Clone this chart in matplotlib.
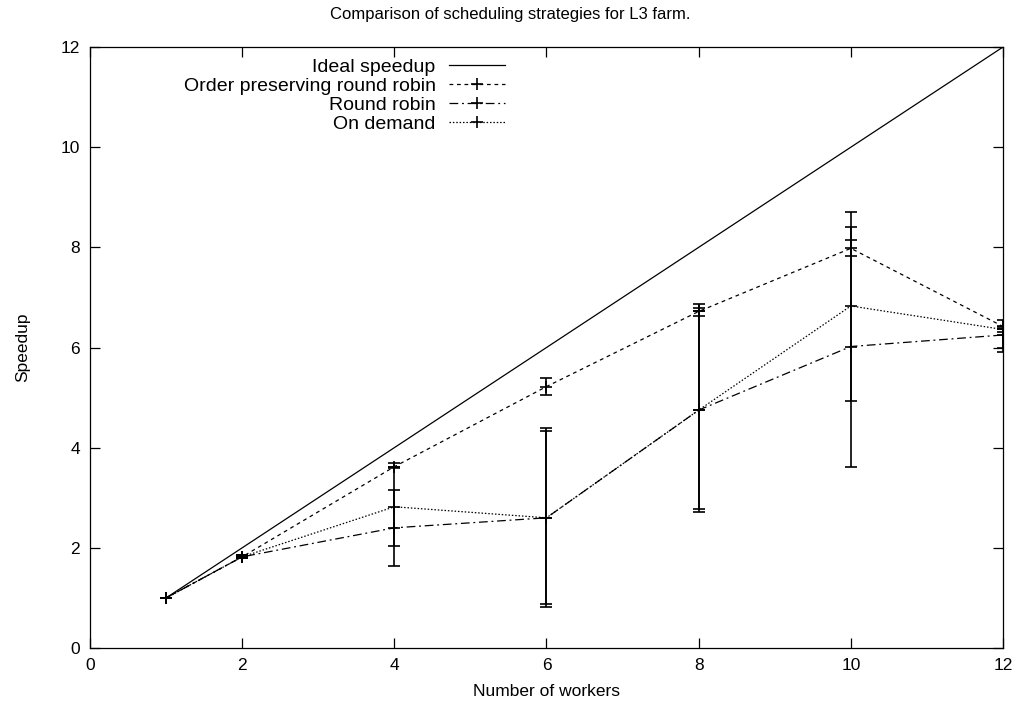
import numpy as np
import matplotlib
matplotlib.use('Agg')
import matplotlib.pyplot as plt

plt.rcParams['font.family'] = ['Liberation Sans', 'DejaVu Sans']
plt.rcParams['font.size'] = 12.5

# data
workers = [1, 2, 4, 6, 8, 10, 12]
ideal = [1, 2, 4, 6, 8, 10, 12]

opr = [1.0, 1.82, 3.62, 5.22, 6.72, 7.98, 6.42]
opr_lo = [1.0, 1.80, 3.60, 5.05, 6.62, 7.83, 6.31]
opr_hi = [1.0, 1.85, 3.69, 5.40, 6.87, 8.14, 6.55]

rr = [1.0, 1.82, 2.40, 2.60, 4.75, 6.02, 6.25]
rr_lo = [1.0, 1.80, 1.64, 0.82, 2.72, 3.62, 5.91]
rr_hi = [1.0, 1.85, 3.15, 4.39, 6.78, 8.41, 6.41]

od = [1.0, 1.82, 2.82, 2.60, 4.75, 6.83, 6.36]
od_lo = [1.0, 1.80, 2.04, 0.88, 2.78, 4.93, 5.99]
od_hi = [1.0, 1.85, 3.62, 4.33, 6.72, 8.71, 6.36]


def yerr(y, lo, hi):
    y = np.array(y)
    return [y - np.array(lo), np.array(hi) - y]


fig = plt.figure(figsize=(10.21, 7.09), dpi=100)
ax = fig.add_axes([0.0881, 0.086, 0.8943, 0.8477])

h_ideal, = ax.plot(workers, ideal, color='black', lw=0.9)

series = [
    (opr, opr_lo, opr_hi, (0, (3, 3)), 'Order preserving round robin'),
    (rr, rr_lo, rr_hi, (0, (7, 3, 1.5, 3)), 'Round robin'),
    (od, od_lo, od_hi, (0, (1.2, 1.5)), 'On demand'),
]
handles = [h_ideal]
labels = ['Ideal speedup']
for y, lo, hi, ls, name in series:
    cont = ax.errorbar(workers, y, yerr=yerr(y, lo, hi), color='black', lw=0.9,
                       ls=ls, marker='+', ms=9, mew=1.2, capsize=4,
                       elinewidth=1.2, capthick=1.2)
    handles.append(cont[0])
    labels.append(name)

ax.set_xlim(0, 12)
ax.set_ylim(0, 12)
ax.set_xticks(range(0, 13, 2))
ax.set_yticks(range(0, 13, 2))
ax.tick_params(direction='in', length=7, width=0.9, top=True, right=True, pad=7)
for s in ax.spines.values():
    s.set_linewidth(0.9)

# gnuplot centres the title on the whole canvas
fig.suptitle('Comparison of scheduling strategies for L3 farm.', fontsize=12,
             x=0.5, y=0.98, va='center')
ax.set_xlabel('Number of workers', labelpad=8)
ax.set_ylabel('Speedup', labelpad=22)

# gnuplot style key: text right aligned, sample on the right
ax.legend(handles, labels, loc='upper right', bbox_to_anchor=(0.467, 1.0),
          frameon=False, markerfirst=False, fontsize=14, handlelength=2.85,
          handletextpad=0.7, labelspacing=0.06, borderaxespad=0.2)

fig.savefig('out.png', dpi=100)
